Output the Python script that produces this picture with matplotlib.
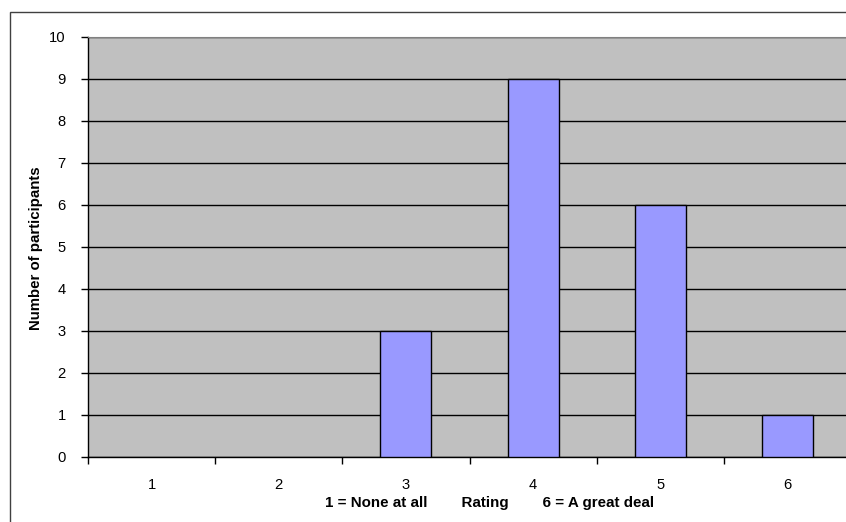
import matplotlib
matplotlib.use("Agg")
import matplotlib.pyplot as plt
from matplotlib.patches import Rectangle

ratings = [1, 2, 3, 4, 5, 6]
counts = [0, 0, 3, 9, 6, 1]
y_ticks = list(range(0, 11))
x_label = "1 = None at all        Rating        6 = A great deal"
y_label = "Number of participants"

plt.rcParams['font.family'] = ['Liberation Sans', 'DejaVu Sans']

W, H = 846, 522
fig = plt.figure(figsize=(W / 100, H / 100), dpi=100)
fig.patch.set_facecolor('white')

# axes: left 88, right 851, top 37, bottom 457 (pixels)
ax = fig.add_axes([88 / W, 1 - 457 / H, (851 - 88) / W, (457 - 37) / H])
ax.set_facecolor('#C0C0C0')

bx = [r for r, c in zip(ratings, counts) if c > 0]
bh = [c for c in counts if c > 0]
ax.bar(bx, bh, width=0.4, color='#9999FF', edgecolor='black',
       linewidth=1.0, zorder=3)

ax.set_xlim(0.5, 6.5)
ax.set_ylim(0, 10)
ax.set_yticks(y_ticks)
ax.set_yticklabels([str(v) for v in y_ticks], fontsize=10.6)
ax.yaxis.grid(True, color='black', linewidth=1.0, zorder=1)
ax.set_axisbelow(True)

ax.set_xticks([r - 0.5 for r in ratings] + [ratings[-1] + 0.5])
ax.set_xticklabels([])
ax.set_xticks(ratings, minor=True)
ax.set_xticklabels([str(r) for r in ratings], minor=True, fontsize=10.6)
ax.tick_params(axis='x', which='major', direction='out', length=5, width=1, color='black')
ax.tick_params(axis='x', which='minor', length=0, pad=15)
ax.tick_params(axis='y', direction='out', length=5, width=1, color='black', pad=11)

for s in ['left', 'bottom']:
    ax.spines[s].set_color('black')
    ax.spines[s].set_linewidth(1.0)
ax.spines['top'].set_color('#808080')
ax.spines['right'].set_visible(False)

fig.text(36 / W, 1 - 248 / H, y_label, rotation=90, fontsize=10.8,
         fontweight='bold', ha='center', va='center')
fig.text(490 / W, 1 - 503 / H, x_label, fontsize=10.9, fontweight='bold',
         ha='center', va='center')

# outer chart border
fig.patches.append(Rectangle((10 / W, -0.1), 1.2, 1 - 12 / H + 0.1,
                             transform=fig.transFigure, fill=False,
                             edgecolor='#404040', linewidth=1.0))

fig.savefig('out.png', dpi=100)
